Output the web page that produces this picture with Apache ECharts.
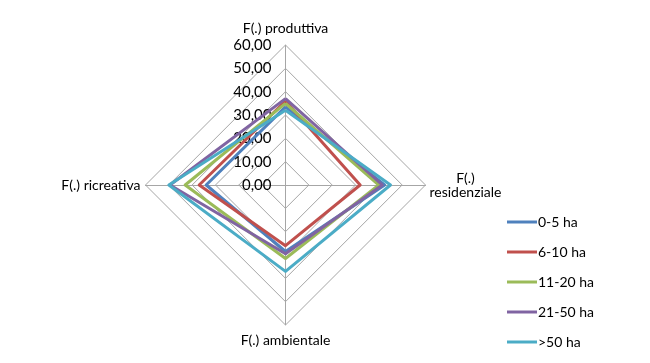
<!DOCTYPE html>
<html>
<head>
<meta charset="utf-8">
<script src="https://cdn.jsdelivr.net/npm/echarts@6/dist/echarts.min.js"></script>
<style>
html,body{margin:0;padding:0;background:#fff;}
#c{width:650px;height:363px;}
</style>
</head>
<body>
<div id="c"></div>
<script>
// indicator order (ECharts places them counter-clockwise from the top)
var indicatorNames = ['F(.) produttiva', 'F(.) ricreativa', 'F(.) ambientale', 'F(.)\nresidenziale'];
var seriesNames = ['0-5 ha', '6-10 ha', '11-20 ha', '21-50 ha', '>50 ha'];
var colors = ['#4F81BD', '#C0504D', '#9BBB59', '#8064A2', '#4BACC6'];
// values: [produttiva, ricreativa, ambientale, residenziale]
var ha0_5   = [33.5, 34.0, 28.5, 42.5];
var ha6_10  = [36.0, 37.0, 26.0, 32.0];
var ha11_20 = [35.0, 43.0, 31.5, 40.0];
var ha21_50 = [37.0, 49.5, 29.5, 41.5];
var ha50    = [32.0, 50.0, 37.0, 45.0];
var axisMax = 60;
var axisMin = 0;

var values = [ha0_5, ha6_10, ha11_20, ha21_50, ha50];
var font = 'Lato, "Open Sans", sans-serif';

var indicators = indicatorNames.map(function (n, i) {
  var ind = { name: n, min: axisMin, max: axisMax };
  if (i === 0) {
    ind.nameGap = 10;
    ind.axisLabel = {
      show: true,
      color: '#000',
      fontSize: 15,
      margin: 14,
      fontFamily: font,
      formatter: function (v) { return v.toFixed(2).replace('.', ','); }
    };
  }
  if (i === 1) {
    ind.nameGap = 5;
  }
  if (i === 3) {
    ind.nameTextStyle = { align: 'center' };
    ind.nameGap = 40;
  }
  return ind;
});

var chart = echarts.init(document.getElementById('c'), null, { renderer: 'canvas' });
chart.setOption({
  animation: false,
  backgroundColor: '#fff',
  color: colors,
  legend: {
    orient: 'vertical',
    left: 502,
    top: 210,
    itemWidth: 30,
    itemHeight: 3,
    itemGap: 16,
    icon: 'rect',
    textStyle: { color: '#000', fontSize: 14, fontFamily: font, padding: [0, 0, 0, -4] },
    data: seriesNames
  },
  radar: {
    center: [285.5, 185],
    radius: 140,
    shape: 'polygon',
    splitNumber: 6,
    nameGap: 8,
    axisName: { color: '#000', fontSize: 14, fontFamily: font },
    axisLine: { lineStyle: { color: '#A6A6A6', width: 1 } },
    splitLine: { lineStyle: { color: '#A6A6A6', width: 1 } },
    splitArea: { show: false },
    axisTick: { show: false },
    axisLabel: { show: false },
    indicator: indicators
  },
  series: [{
    type: 'radar',
    symbol: 'none',
    lineStyle: { width: 3 },
    data: seriesNames.map(function (n, i) {
      return { name: n, value: values[i], lineStyle: { color: colors[i], width: 3 }, itemStyle: { color: colors[i] } };
    })
  }]
});
</script>
</body>
</html>
